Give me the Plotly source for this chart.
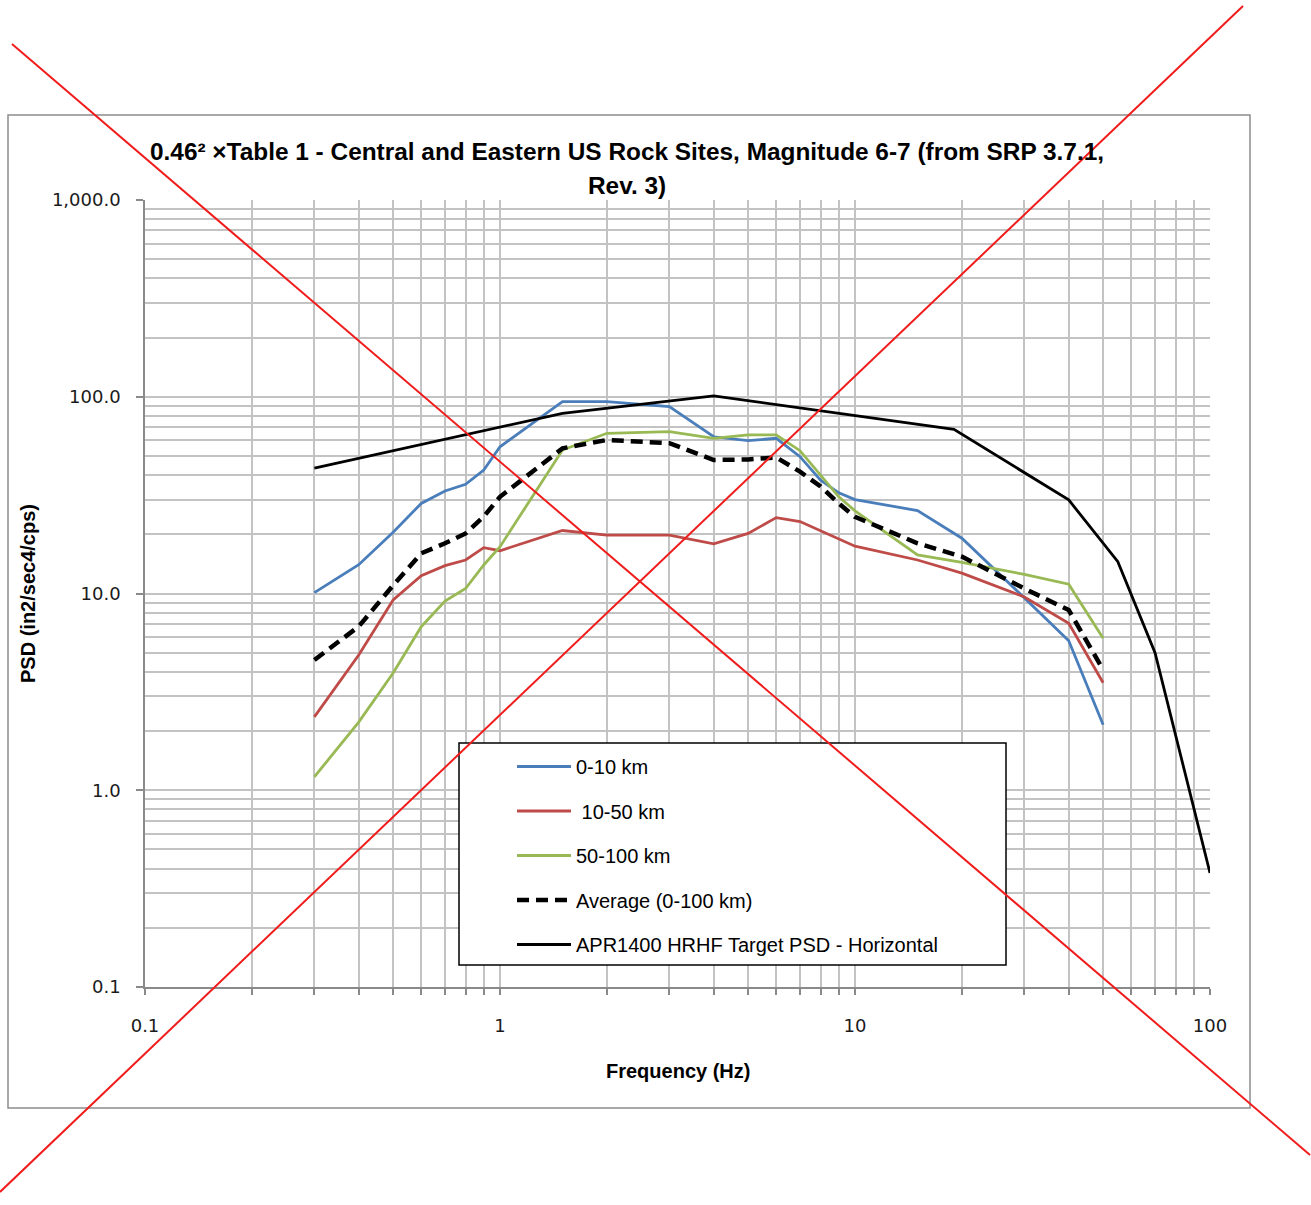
import plotly.graph_objects as go

# ---------------- data ----------------
freq = [0.3, 0.4, 0.5, 0.6, 0.7, 0.8, 0.9, 1, 1.5, 2, 3, 4, 5, 6, 7, 8, 9, 10, 15, 20, 30, 40, 50]
psd_0_10 = [10.1, 14.0, 20.5, 28.7, 33.2, 35.9, 42.4, 55.7, 94.4, 94.4, 89.0, 62.6, 59.8, 61.5, 49.6,
            37.7, 32.5, 30.0, 26.4, 19.1, 9.5, 5.75, 2.15]
psd_10_50 = [2.36, 4.87, 9.27, 12.3, 13.85, 14.8, 17.1, 16.5, 20.9, 19.8, 19.8, 17.9, 20.2, 24.3, 23.2,
             20.9, 19.0, 17.4, 14.8, 12.7, 9.6, 7.06, 3.52]
psd_50_100 = [1.17, 2.22, 3.94, 6.78, 9.16, 10.6, 13.96, 17.3, 53.6, 65.2, 66.5, 61.5, 64.0, 64.0, 53.2,
              40.0, 31.0, 26.3, 15.7, 14.4, 12.5, 11.15, 5.92]
psd_avg = [4.59, 6.8, 11.0, 16.0, 18.0, 20.2, 24.6, 31.0, 54.7, 60.3, 58.1, 47.7, 48.0, 49.2, 41.6,
           35.0, 28.7, 24.5, 18.0, 15.4, 10.6, 8.24, 4.1]
target_freq = [0.3, 1.5, 4, 19, 40, 55, 70, 100]
target_psd = [43.4, 82.4, 101.0, 68.3, 29.9, 14.5, 5.0, 0.38]

series_names = ["0-10 km", " 10-50 km", "50-100 km", "Average (0-100 km)",
                "APR1400 HRHF Target PSD - Horizontal"]
x_tick_vals = [0.1, 1, 10, 100]
x_tick_text = ["0.1", "1", "10", "100"]
y_tick_vals = [0.1, 1, 10, 100, 1000]
y_tick_text = ["0.1", "1.0", "10.0", "100.0", "1,000.0"]

title_line1 = "0.46² ×Table 1 - Central and Eastern US Rock Sites, Magnitude 6-7 (from SRP 3.7.1,"
title_line2 = "Rev. 3)"
x_title = "Frequency (Hz)"
y_title = "PSD (in2/sec4/cps)"

# ---------------- layout geometry ----------------
W, H = 1311, 1205
L, R, T, B = 145, 1210, 200, 987  # plot area in pixels


def px(x):
    return (x - L) / (R - L)


def py(y):
    return (B - y) / (B - T)


def minor_vals(lo_exp, hi_exp):
    out = []
    for e in range(lo_exp, hi_exp):
        for m in range(2, 10):
            out.append(m * 10 ** e)
    return out


GRID = "#c3c3c3"
AXIS = "#8a8a8a"
TICKFONT = dict(family="DejaVu Sans", size=18, color="#1a1a1a")
BOLDFONT = "Liberation Sans Narrow, Liberation Sans, Arial Narrow, sans-serif"

fig = go.Figure()
colors = ["#4a7ebb", "#be4b48", "#98b954", "black", "black"]
ys = [psd_0_10, psd_10_50, psd_50_100, psd_avg]
for i in range(4):
    fig.add_trace(go.Scatter(
        x=freq, y=ys[i], mode="lines", name=series_names[i], legendgroup=f"g{i}",
        line=dict(color=colors[i], width=4.5 if i == 3 else 2.8,
                  dash="12px,7px" if i == 3 else "solid"),
    ))
fig.add_trace(go.Scatter(
    x=target_freq, y=target_psd, mode="lines", name=series_names[4], legendgroup="g4",
    line=dict(color="black", width=2.8),
))

fig.update_xaxes(
    type="log", range=[-1, 2], tickmode="array", tickvals=x_tick_vals, ticktext=x_tick_text,
    ticks="outside", ticklen=6, tickwidth=1.5, tickcolor=AXIS, tickfont=TICKFONT,
    ticklabelstandoff=16,
    showgrid=True, gridcolor=GRID, gridwidth=1.5,
    showline=True, linecolor=AXIS, linewidth=1.5, zeroline=False,
    minor=dict(tickmode="array", tickvals=minor_vals(-1, 2), ticks="outside", ticklen=6,
               tickwidth=1.5, tickcolor=AXIS, showgrid=True, gridcolor=GRID, gridwidth=1.5),
)
fig.update_yaxes(
    type="log", range=[-1, 3], tickmode="array", tickvals=y_tick_vals, ticktext=y_tick_text,
    ticks="outside", ticklen=7, tickwidth=1.5, tickcolor=AXIS, tickfont=TICKFONT,
    ticklabelstandoff=12,
    showgrid=True, gridcolor=GRID, gridwidth=1.5,
    showline=True, linecolor=AXIS, linewidth=1.5, zeroline=False,
    minor=dict(tickmode="array", tickvals=minor_vals(-1, 3), ticks="", showgrid=True,
               gridcolor=GRID, gridwidth=1.5),
)

shapes = [
    # outer chart frame
    dict(type="rect", xref="paper", yref="paper", x0=px(8), x1=px(1250), y0=py(1108), y1=py(115),
         line=dict(color="#8c8c8c", width=1.5), fillcolor="rgba(0,0,0,0)", layer="below"),
    # legend box
    dict(type="rect", xref="paper", yref="paper", x0=px(459), x1=px(1006), y0=py(965), y1=py(743),
         line=dict(color="black", width=1.5), fillcolor="white", layer="above"),
    # red cross
    dict(type="line", xref="paper", yref="paper", x0=px(12), y0=py(44), x1=px(1310), y1=py(1155),
         line=dict(color="#f01c1c", width=2), layer="above"),
    dict(type="line", xref="paper", yref="paper", x0=px(1243), y0=py(6), x1=px(0), y1=py(1192),
         line=dict(color="#f01c1c", width=2), layer="above"),
]

annotations = [
    dict(text=f"<b>{title_line1}</b>", xref="paper", yref="paper", x=px(627), y=py(151),
         xanchor="center", yanchor="middle", showarrow=False,
         font=dict(family=BOLDFONT, size=24.4, color="black")),
    dict(text=f"<b>{title_line2}</b>", xref="paper", yref="paper", x=px(627), y=py(186),
         xanchor="center", yanchor="middle", showarrow=False,
         font=dict(family=BOLDFONT, size=24.4, color="black")),
    dict(text=f"<b>{x_title}</b>", xref="paper", yref="paper", x=px(678), y=py(1071),
         xanchor="center", yanchor="middle", showarrow=False,
         font=dict(family=BOLDFONT, size=20, color="black")),
    dict(text=f"<b>{y_title}</b>", xref="paper", yref="paper", x=px(28), y=py(594),
         xanchor="center", yanchor="middle", showarrow=False, textangle=-90,
         font=dict(family=BOLDFONT, size=20, color="black")),
]

fig.update_layout(
    width=W, height=H, autosize=False,
    margin=dict(l=L, r=W - R, t=T, b=H - B, pad=0),
    paper_bgcolor="white", plot_bgcolor="white",
    shapes=shapes, annotations=annotations,
    showlegend=True,
    legend=dict(
        x=px(512), y=py(747), xanchor="left", yanchor="top",
        bgcolor="rgba(0,0,0,0)", borderwidth=0,
        font=dict(family="Liberation Sans", size=20, color="black"),
        itemwidth=54, traceorder="grouped", tracegroupgap=15.5,
    ),
)

fig.write_html("out.html", config={"displayModeBar": False},
               post_script="document.body.style.margin='0px';document.body.style.padding='0px';")
